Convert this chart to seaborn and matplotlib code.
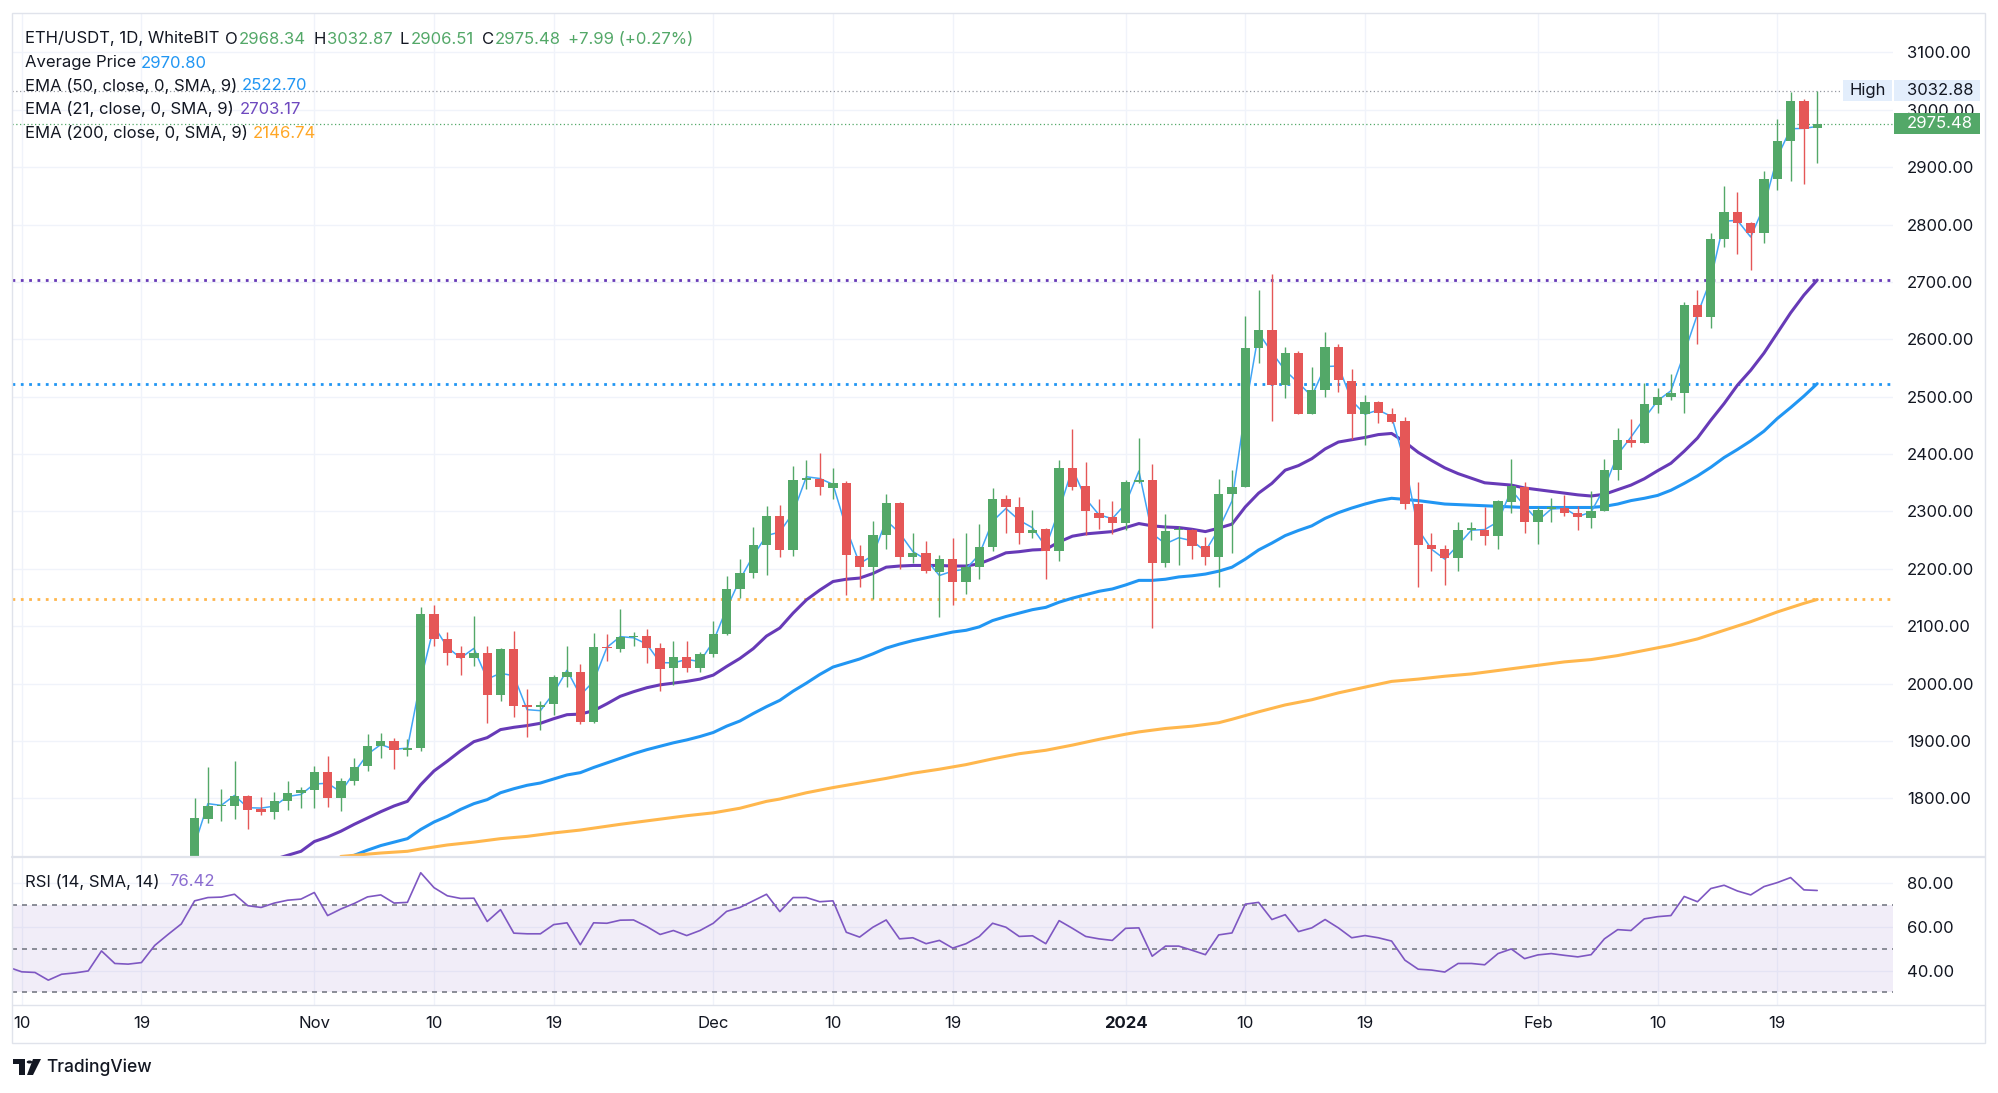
import numpy as np
import pandas as pd
import matplotlib
matplotlib.use("Agg")
import matplotlib.pyplot as plt
import matplotlib.patches as mpatches
import matplotlib.transforms as mtransforms
from matplotlib.lines import Line2D
import seaborn as sns

# x axis = days since 10 Oct 2023 (first date label on the chart)
ORIGIN = pd.Timestamp("2023-10-10")

# ETH/USDT 1D candles, 23 Oct 2023 .. 22 Feb 2024
candle_start = "2023-10-23"
opens = [1662, 1765, 1787, 1787, 1804, 1782, 1776, 1795, 1809, 1815,
         1846, 1801, 1831, 1856, 1891, 1900, 1885, 1888, 2121, 2078,
         2053, 2044, 2054, 1980, 2060, 1961, 1960, 1964, 2012, 2021,
         1933, 2064, 2061, 2081, 2083, 2062, 2027, 2047, 2027, 2051,
         2087, 2165, 2193, 2241, 2292, 2233, 2355, 2357, 2341, 2350,
         2223, 2204, 2259, 2314, 2220, 2228, 2195, 2218, 2177, 2203,
         2238, 2322, 2307, 2263, 2270, 2231, 2376, 2344, 2298, 2291,
         2280, 2352, 2355, 2210, 2267, 2268, 2240, 2221, 2330, 2343,
         2584, 2616, 2521, 2577, 2470, 2512, 2586, 2528, 2470, 2490,
         2470, 2457, 2313, 2242, 2235, 2219, 2268, 2268, 2257, 2317,
         2342, 2282, 2305, 2306, 2297, 2288, 2301, 2372, 2425, 2419,
         2485, 2500, 2507, 2659, 2639, 2774, 2821, 2802, 2786, 2880,
         2945, 3015, 2968.34]
highs = [1800, 1854, 1816, 1865, 1806, 1803, 1811, 1830, 1820, 1856,
         1874, 1835, 1871, 1913, 1914, 1906, 1904, 2133, 2137, 2090,
         2066, 2118, 2066, 2063, 2092, 1991, 1970, 2015, 2066, 2035,
         2089, 2087, 2130, 2090, 2095, 2071, 2074, 2074, 2055, 2110,
         2187, 2218, 2273, 2309, 2311, 2380, 2389, 2402, 2376, 2354,
         2242, 2283, 2331, 2317, 2262, 2248, 2224, 2253, 2263, 2278,
         2341, 2328, 2325, 2303, 2271, 2390, 2444, 2386, 2321, 2318,
         2355, 2428, 2383, 2295, 2275, 2270, 2255, 2357, 2372, 2640,
         2686, 2714, 2587, 2580, 2552, 2613, 2591, 2548, 2503, 2492,
         2481, 2465, 2351, 2263, 2242, 2282, 2282, 2308, 2320, 2392,
         2352, 2308, 2324, 2328, 2309, 2336, 2392, 2445, 2462, 2524,
         2515, 2539, 2665, 2686, 2785, 2867, 2857, 2805, 2894, 2984,
         3031, 3018, 3032.87]
lows = [1650, 1758, 1760, 1765, 1746, 1772, 1765, 1780, 1784, 1784,
        1785, 1778, 1824, 1848, 1871, 1852, 1874, 1883, 2066, 2033,
        2016, 2031, 1932, 1970, 1942, 1907, 1919, 1945, 1995, 1930,
        1931, 2040, 2056, 2066, 2036, 1988, 1997, 2020, 2021, 2046,
        2085, 2149, 2185, 2190, 2221, 2223, 2340, 2329, 2322, 2154,
        2168, 2148, 2234, 2200, 2211, 2192, 2117, 2137, 2156, 2182,
        2231, 2263, 2244, 2253, 2182, 2213, 2337, 2259, 2269, 2261,
        2268, 2349, 2097, 2204, 2207, 2218, 2207, 2169, 2228, 2342,
        2558, 2458, 2498, 2469, 2469, 2499, 2508, 2427, 2415, 2454,
        2455, 2305, 2169, 2197, 2172, 2197, 2251, 2241, 2234, 2297,
        2263, 2244, 2282, 2292, 2268, 2271, 2300, 2355, 2412, 2419,
        2472, 2495, 2472, 2591, 2619, 2761, 2749, 2720, 2767, 2860,
        2876, 2870, 2906.51]
closes = [1766, 1787, 1789, 1804, 1780, 1776, 1795, 1809, 1815, 1846,
          1801, 1831, 1855, 1891, 1900, 1885, 1888, 2121, 2078, 2053,
          2044, 2053, 1980, 2060, 1961, 1960, 1963, 2012, 2021, 1933,
          2064, 2062, 2081, 2083, 2062, 2026, 2047, 2028, 2051, 2087,
          2165, 2193, 2241, 2292, 2233, 2355, 2358, 2342, 2350, 2225,
          2204, 2259, 2314, 2220, 2228, 2197, 2218, 2177, 2203, 2238,
          2322, 2308, 2263, 2268, 2231, 2376, 2343, 2300, 2289, 2280,
          2351, 2353, 2210, 2266, 2268, 2240, 2221, 2330, 2343, 2584,
          2616, 2521, 2576, 2470, 2512, 2586, 2529, 2470, 2490, 2471,
          2456, 2313, 2242, 2235, 2219, 2268, 2269, 2257, 2318, 2344,
          2282, 2302, 2306, 2297, 2291, 2301, 2372, 2425, 2420, 2487,
          2500, 2507, 2659, 2639, 2775, 2821, 2802, 2786, 2880, 2945,
          3015, 2967, 2975.48]

# EMA lines as seen on the chart (day offsets from ORIGIN)
ema21_start = 19
ema21 = [1694, 1701, 1708, 1725, 1733, 1743, 1755, 1766, 1777, 1787,
         1795, 1824, 1848, 1865, 1883, 1899, 1906, 1920, 1924, 1927,
         1931, 1939, 1946, 1947, 1953, 1965, 1978, 1986, 1993, 1998,
         2001, 2004, 2008, 2015, 2030, 2044, 2061, 2083, 2097, 2123,
         2146, 2163, 2178, 2182, 2184, 2192, 2203, 2205, 2206, 2206,
         2206, 2205, 2205, 2209, 2218, 2228, 2230, 2233, 2234, 2247,
         2257, 2261, 2263, 2265, 2272, 2279, 2275, 2273, 2272, 2269,
         2265, 2271, 2278, 2308, 2332, 2349, 2372, 2380, 2392, 2409,
         2421, 2425, 2429, 2434, 2436, 2421, 2403, 2389, 2376, 2366,
         2358, 2350, 2348, 2346, 2341, 2338, 2335, 2332, 2329, 2327,
         2330, 2338, 2346, 2357, 2371, 2384, 2405, 2428, 2459, 2488,
         2520, 2546, 2576, 2611, 2646, 2677, 2703.17]
ema50_start = 24
ema50 = [1695, 1701, 1710, 1718, 1724, 1730, 1746, 1759, 1769, 1781,
         1791, 1798, 1810, 1817, 1823, 1827, 1834, 1841, 1845, 1854,
         1862, 1870, 1878, 1885, 1891, 1897, 1902, 1908, 1915, 1926,
         1935, 1948, 1960, 1971, 1987, 2001, 2016, 2029, 2036, 2043,
         2052, 2062, 2069, 2075, 2080, 2085, 2090, 2093, 2099, 2110,
         2117, 2123, 2129, 2133, 2142, 2149, 2155, 2161, 2165, 2172,
         2180, 2180, 2182, 2186, 2188, 2191, 2196, 2203, 2217, 2233,
         2245, 2258, 2267, 2275, 2288, 2298, 2306, 2313, 2319, 2323,
         2321, 2319, 2316, 2313, 2312, 2311, 2310, 2309, 2308, 2307,
         2307, 2307, 2307, 2307, 2307, 2309, 2313, 2319, 2323, 2328,
         2337, 2349, 2362, 2377, 2394, 2408, 2423, 2440, 2462, 2481,
         2501, 2522.70]
ema200_days = [24, 27, 29, 30, 32, 34, 36, 38, 40, 42,
               45, 47, 50, 52, 54, 56, 57, 59, 61, 63,
               65, 67, 69, 71, 73, 75, 77, 79, 81, 83,
               84, 86, 88, 90, 91, 93, 95, 97, 99, 101,
               103, 105, 107, 109, 111, 114, 116, 118, 120, 122,
               124, 126, 128, 130, 132, 134, 135]
ema200 = [1699, 1705, 1708, 1712, 1719, 1724, 1730, 1734, 1740, 1745,
          1755, 1761, 1770, 1775, 1783, 1795, 1799, 1810, 1819, 1827,
          1835, 1844, 1851, 1859, 1869, 1878, 1884, 1893, 1903, 1912,
          1916, 1922, 1926, 1932, 1938, 1951, 1963, 1972, 1984, 1994,
          2004, 2008, 2013, 2017, 2023, 2032, 2038, 2042, 2049, 2058,
          2067, 2078, 2093, 2108, 2125, 2140, 2146.74]

# RSI (14), one value per day from 9 Oct 2023
rsi_start = "2023-10-09"
rsi = [41.5, 39.4, 39.1, 35.6, 38.3, 38.9, 39.8, 48.9, 43.2, 42.9,
       43.6, 51.4, 56.4, 61.2, 71.7, 73.2, 73.4, 74.7, 69.5, 68.7,
       70.7, 72.0, 72.5, 75.5, 65.0, 68.0, 70.5, 73.5, 74.4, 70.7,
       71.0, 84.5, 77.7, 74.0, 72.8, 72.9, 62.3, 67.7, 57.0, 56.7,
       56.7, 60.9, 61.7, 51.7, 61.7, 61.5, 62.9, 63.0, 60.0, 56.4,
       58.2, 55.9, 58.2, 61.5, 66.9, 68.7, 71.7, 74.7, 66.8, 73.2,
       73.2, 71.3, 71.7, 57.4, 55.2, 59.7, 63.0, 54.4, 54.9, 52.2,
       53.7, 50.2, 52.2, 55.5, 61.5, 59.7, 55.5, 55.8, 52.2, 62.7,
       59.2, 55.5, 54.4, 53.7, 59.2, 59.4, 46.5, 51.1, 51.1, 49.2,
       47.2, 56.2, 57.1, 70.2, 71.0, 63.2, 65.4, 57.7, 59.4, 63.2,
       59.4, 54.9, 55.9, 54.9, 53.4, 44.7, 40.6, 40.2, 39.3, 43.2,
       43.2, 42.6, 47.7, 49.8, 45.4, 47.1, 47.7, 46.9, 46.2, 47.2,
       54.4, 58.6, 58.2, 63.5, 64.5, 65.0, 73.7, 71.3, 77.3, 78.8,
       76.2, 74.4, 78.2, 80.0, 82.3, 76.7, 76.42]

tick_dates = ["2023-10-10", "2023-10-19", "2023-11-01", "2023-11-10", "2023-11-19",
              "2023-12-01", "2023-12-10", "2023-12-19", "2024-01-01", "2024-01-10",
              "2024-01-19", "2024-02-01", "2024-02-10", "2024-02-19"]
tick_labels = ["10", "19", "Nov", "10", "19", "Dec", "10", "19", "2024", "10",
               "19", "Feb", "10", "19"]
price_ticks = list(range(1800, 3101, 100))
rsi_ticks = [40, 60, 80]

UP, DOWN = "#53A868", "#E55757"
BLUE, PURPLE, ORANGE, RSI_C = "#2196F3", "#673AB7", "#FFB74D", "#7E57C2"
TXT, GRID, BORDER = "#131722", "#F0F3FA", "#E0E3EB"
W, H = 1999, 1093
FS = 12


def box(l, t, r, b):
    return [l / W, 1 - b / H, (r - l) / W, (b - t) / H]


def make_candles():
    dates = pd.date_range(candle_start, periods=len(opens), freq="D")
    df = pd.DataFrame({"date": dates, "open": opens, "high": highs,
                       "low": lows, "close": closes})
    df["x"] = (df["date"] - ORIGIN).dt.days
    # "Average Price" indicator = (O+H+L+C)/4
    df["avg"] = df[["open", "high", "low", "close"]].mean(axis=1)
    df["up"] = df["close"] >= df["open"]
    return df


def draw_main(ax, df, tick_x):
    ax.set_xlim(-0.73, 140.7)
    ax.set_ylim(1699.8, 3168.5)
    ax.set_xticks(tick_x)
    ax.set_yticks(price_ticks)
    ax.set_yticklabels([f"{v:.2f}" for v in price_ticks])
    ax.yaxis.tick_right()
    ax.tick_params(axis="y", length=0, pad=10, labelsize=FS, labelcolor=TXT)
    ax.tick_params(axis="x", length=0, labelbottom=False)
    ax.grid(True, color=GRID, lw=1)
    ax.set_axisbelow(True)
    for s in ax.spines.values():
        s.set_visible(False)

    # last-value price lines
    dots = (0, (1, 2))
    ax.axhline(2703.17, color=PURPLE, lw=2, ls=dots, zorder=2)
    ax.axhline(2522.70, color=BLUE, lw=2, ls=dots, zorder=2)
    ax.axhline(2146.74, color=ORANGE, lw=2, ls=dots, zorder=2)
    ax.axhline(3032.88, xmax=0.973, color="#9598A1", lw=0.9, ls=(0, (1, 2)), zorder=2)
    ax.axhline(2975.48, color=UP, lw=0.9, ls=(0, (1, 2)), zorder=2)

    sns.lineplot(x=[ema21_start + i for i in range(len(ema21))], y=ema21, ax=ax,
                 color=PURPLE, lw=2.2, sort=False, estimator=None, zorder=3)
    sns.lineplot(x=[ema50_start + i for i in range(len(ema50))], y=ema50, ax=ax,
                 color=BLUE, lw=2.2, sort=False, estimator=None, zorder=3)
    sns.lineplot(x=ema200_days, y=ema200, ax=ax, color=ORANGE, lw=2.2,
                 sort=False, estimator=None, zorder=3)
    sns.lineplot(data=df, x="x", y="avg", ax=ax, color="#42A5F5", lw=1.1,
                 sort=False, estimator=None, zorder=3.5)

    colors = np.where(df["up"], UP, DOWN)
    ax.vlines(df["x"], df["low"], df["high"], colors=colors, lw=1.0, zorder=4)
    body_lo = np.minimum(df["open"], df["close"])
    body_h = np.maximum((df["close"] - df["open"]).abs(), 2.5)
    ax.bar(df["x"], body_h, bottom=body_lo, width=0.7, color=colors, lw=0, zorder=5)
    ax.set_xlabel("")
    ax.set_ylabel("")

    # right-scale badges
    tr = mtransforms.blended_transform_factory(ax.transAxes, ax.transData)
    bh = 37
    ax.add_patch(mpatches.Rectangle((0.9734, 3032.88 - bh / 2), 0.026, bh, transform=tr,
                                    color="#E3EEFC", lw=0, clip_on=False, zorder=6))
    ax.text(0.9865, 3032.88, "High", transform=tr, ha="center", va="center",
            fontsize=FS, color=TXT, zorder=7, clip_on=False)
    ax.add_patch(mpatches.Rectangle((1.0005, 3032.88 - bh / 2), 0.0455, bh, transform=tr,
                                    color="#E3EEFC", lw=0, clip_on=False, zorder=6))
    ax.text(1.0074, 3032.88, "3032.88", transform=tr, ha="left", va="center",
            fontsize=FS, color=TXT, zorder=7, clip_on=False)
    ax.add_patch(mpatches.Rectangle((1.0005, 2975.48 - bh / 2), 0.0455, bh, transform=tr,
                                    color=UP, lw=0, clip_on=False, zorder=6))
    ax.text(1.0074, 2975.48, "2975.48", transform=tr, ha="left", va="center",
            fontsize=FS, color="white", zorder=7, clip_on=False)


def draw_rsi(ax, tick_x):
    x0 = (pd.Timestamp(rsi_start) - ORIGIN).days
    ax.set_ylim(24.3, 91.2)
    ax.axhspan(30, 70, color=RSI_C, alpha=0.1, lw=0, zorder=1)
    for v in (70, 50, 30):
        ax.axhline(v, color="#787B86", lw=1.2, ls=(0, (3, 3)), zorder=2)
    sns.lineplot(x=[x0 + i for i in range(len(rsi))], y=rsi, ax=ax, color=RSI_C,
                 lw=1.2, sort=False, estimator=None, zorder=3)
    ax.set_yticks(rsi_ticks)
    ax.set_yticklabels([f"{v:.2f}" for v in rsi_ticks])
    ax.yaxis.tick_right()
    ax.tick_params(axis="y", length=0, pad=10, labelsize=FS, labelcolor=TXT)
    ax.set_xticks(tick_x)
    ax.set_xticklabels(tick_labels)
    ax.tick_params(axis="x", length=0, pad=8, labelsize=FS, labelcolor=TXT, labelbottom=True)
    for lab in ax.get_xticklabels():
        if lab.get_text() == "2024":
            lab.set_fontweight("bold")
    ax.grid(True, color=GRID, lw=1)
    ax.set_axisbelow(True)
    ax.set_xlabel("")
    ax.set_ylabel("")
    for s in ax.spines.values():
        s.set_visible(False)


def put(fig, x, y, s, color=TXT, **kw):
    return fig.text(x / W, 1 - y / H, s, color=color, fontsize=FS, va="center", ha="left", **kw)


def label_value(fig, r, x, y, label, value, color):
    t = put(fig, x, y, label)
    w = t.get_window_extent(r).width
    put(fig, x + w + 1, y, value, color)


def draw_legend(fig):
    fig.canvas.draw()
    r = fig.canvas.get_renderer()
    put(fig, 25, 39, "ETH/USDT, 1D, WhiteBIT")
    label_value(fig, r, 225, 39, "O", "2968.34", UP)
    label_value(fig, r, 314, 39, "H", "3032.87", UP)
    label_value(fig, r, 400, 39, "L", "2906.51", UP)
    label_value(fig, r, 482, 39, "C", "2975.48", UP)
    put(fig, 568, 39, "+7.99 (+0.27%)", UP)
    put(fig, 25, 63, "Average Price")
    put(fig, 141, 63, "2970.80", BLUE)
    put(fig, 25, 86, "EMA (50, close, 0, SMA, 9)")
    put(fig, 242, 86, "2522.70", BLUE)
    put(fig, 25, 109, "EMA (21, close, 0, SMA, 9)")
    put(fig, 240, 109, "2703.17", "#6E48BF")
    put(fig, 25, 133, "EMA (200, close, 0, SMA, 9)")
    put(fig, 253, 133, "2146.74", "#FFA726")
    put(fig, 25, 882, "RSI (14, SMA, 14)")
    put(fig, 169, 882, "76.42", "#8A6BD0")


def draw_frame(fig):
    def px(x, y):
        return x / W, 1 - y / H
    fig.add_artist(mpatches.Rectangle(px(12, 1043), (1985 - 12) / W, (1043 - 13) / H,
                                      transform=fig.transFigure, fill=False,
                                      edgecolor=BORDER, lw=1))
    for y, lw in ((857, 1.6), (1005, 1)):
        (x0, y0), (x1, _) = px(12, y), px(1985, y)
        fig.add_artist(Line2D([x0, x1], [y0, y0], transform=fig.transFigure,
                              color=BORDER, lw=lw))
    # TradingView logo + wordmark
    dark = TXT
    fig.add_artist(mpatches.Polygon([px(13, 1059), px(25, 1059), px(25, 1075), px(19, 1075),
                                     px(19, 1064), px(13, 1064)], closed=True,
                                    transform=fig.transFigure, color=dark, lw=0))
    fig.add_artist(mpatches.Circle(px(29.5, 1062), 2.8 / W, transform=fig.transFigure,
                                   color=dark, lw=0))
    fig.add_artist(mpatches.Polygon([px(33, 1059), px(41, 1059), px(33, 1075), px(27, 1075)],
                                    closed=True, transform=fig.transFigure, color=dark, lw=0))
    fig.text(46 / W, 1 - 1067 / H, "TradingView", fontsize=12.5, color=dark,
             va="center", ha="left", fontweight="medium")


if __name__ == "__main__":
    sns.set_theme(style="white")
    plt.rcParams["font.family"] = ["Inter", "DejaVu Sans"]
    df = make_candles()
    tick_x = [(pd.Timestamp(d) - ORIGIN).days for d in tick_dates]

    fig = plt.figure(figsize=(W / 100, H / 100), dpi=100)
    fig.patch.set_facecolor("white")
    ax = fig.add_axes(box(12, 13, 1893, 856))
    ax_rsi = fig.add_axes(box(12, 858, 1893, 1005), sharex=ax)
    draw_main(ax, df, tick_x)
    draw_rsi(ax_rsi, tick_x)
    ax.tick_params(axis="x", labelbottom=False)
    draw_frame(fig)
    draw_legend(fig)
    fig.savefig("out.png", dpi=100, facecolor="white")
